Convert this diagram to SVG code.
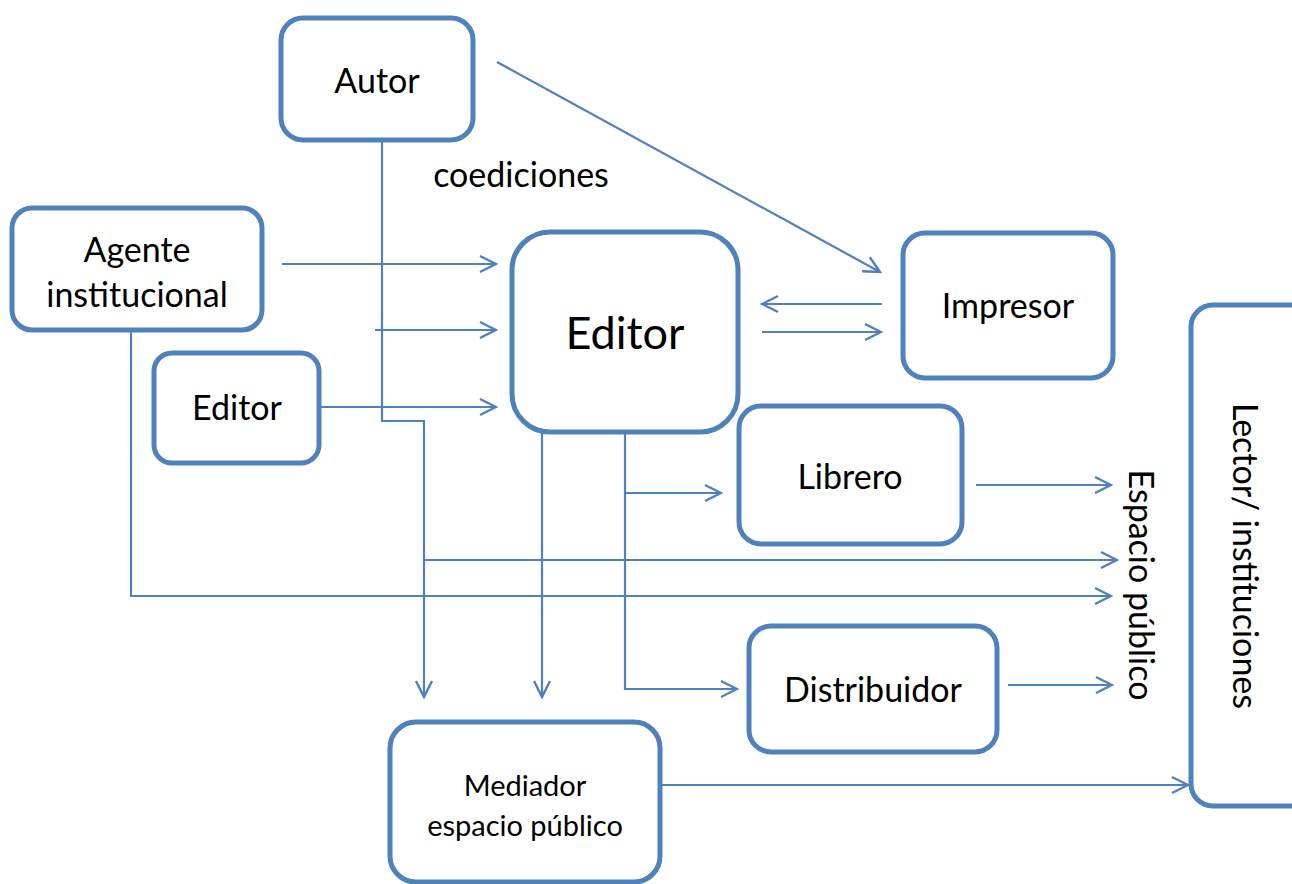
<svg xmlns="http://www.w3.org/2000/svg" width="1292" height="884" viewBox="0 0 1292 884">
<defs>
<style>
.box{fill:#fff;stroke:#4F81BD;stroke-width:5}
.ln{fill:none;stroke:#4F81BD;stroke-width:2.2}
.arr{marker-end:url(#ah)}
text{font-family:Lato,"Open Sans",sans-serif;fill:#000;text-anchor:middle}
.t{font-size:34px}
.s{font-size:29px}
</style>
<marker id="ah" viewBox="0 0 20 20" refX="18" refY="10" markerWidth="20" markerHeight="20" markerUnits="userSpaceOnUse" orient="auto">
<path d="M2,2 L18,10 L2,18" fill="none" stroke="#4F81BD" stroke-width="2.4"/>
</marker>
</defs>
<rect width="1292" height="884" fill="#fff"/>
<g id="connectors">
<line class="ln arr" x1="497" y1="62" x2="880" y2="272"/>
<line class="ln arr" x1="282" y1="264" x2="496" y2="264"/>
<line class="ln arr" x1="375" y1="330" x2="496" y2="330"/>
<line class="ln arr" x1="319" y1="407" x2="496" y2="407"/>
<polyline class="ln arr" points="382,140 382,421 424,421 424,697"/>
<line class="ln arr" x1="424" y1="560" x2="1117" y2="560"/>
<polyline class="ln arr" points="131,330 131,596 1111,596"/>
<line class="ln arr" x1="542" y1="432" x2="542" y2="697"/>
<polyline class="ln arr" points="625,432 625,689 737,689"/>
<line class="ln arr" x1="625" y1="493" x2="721" y2="493"/>
<line class="ln arr" x1="882" y1="304" x2="762" y2="304"/>
<line class="ln arr" x1="762" y1="332" x2="881" y2="332"/>
<line class="ln arr" x1="976" y1="485" x2="1111" y2="485"/>
<line class="ln arr" x1="1008" y1="685" x2="1112" y2="685"/>
<line class="ln arr" x1="662" y1="785" x2="1188" y2="785"/>
</g>
<g id="autor"><rect class="box" x="281" y="18" width="192" height="122" rx="22"/><text class="t" x="377" y="93">Autor</text></g>
<g id="coediciones"><text class="t" x="521" y="187">coediciones</text></g>
<g id="agente"><rect class="box" x="12" y="208" width="250" height="122" rx="20"/><text class="t" x="137" y="262">Agente</text><text class="t" x="137" y="307">institucional</text></g>
<g id="editor-small"><rect class="box" x="154" y="353" width="165" height="110" rx="18"/><text class="t" x="237" y="420">Editor</text></g>
<g id="editor"><rect class="box" x="512" y="232" width="226" height="200" rx="38"/><text x="625" y="349" style="font-size:45px">Editor</text></g>
<g id="impresor"><rect class="box" x="903" y="233" width="210" height="145" rx="22"/><text class="t" x="1008" y="318">Impresor</text></g>
<g id="librero"><rect class="box" x="739" y="406" width="223" height="138" rx="22"/><text class="t" x="850" y="489">Librero</text></g>
<g id="distribuidor"><rect class="box" x="749" y="626" width="248" height="126" rx="22"/><text class="t" x="873" y="702">Distribuidor</text></g>
<g id="mediador"><rect class="box" x="390" y="722" width="270" height="160" rx="26"/><text class="s" x="525" y="796">Mediador</text><text class="s" x="525" y="836">espacio público</text></g>
<g id="espacio"><text class="t" transform="translate(1129,585) rotate(90)">Espacio público</text></g>
<g id="lector"><rect class="box" x="1191" y="305" width="130" height="501" rx="22"/><text class="t" transform="translate(1233,556) rotate(90)">Lector/ instituciones</text></g>
</svg>
